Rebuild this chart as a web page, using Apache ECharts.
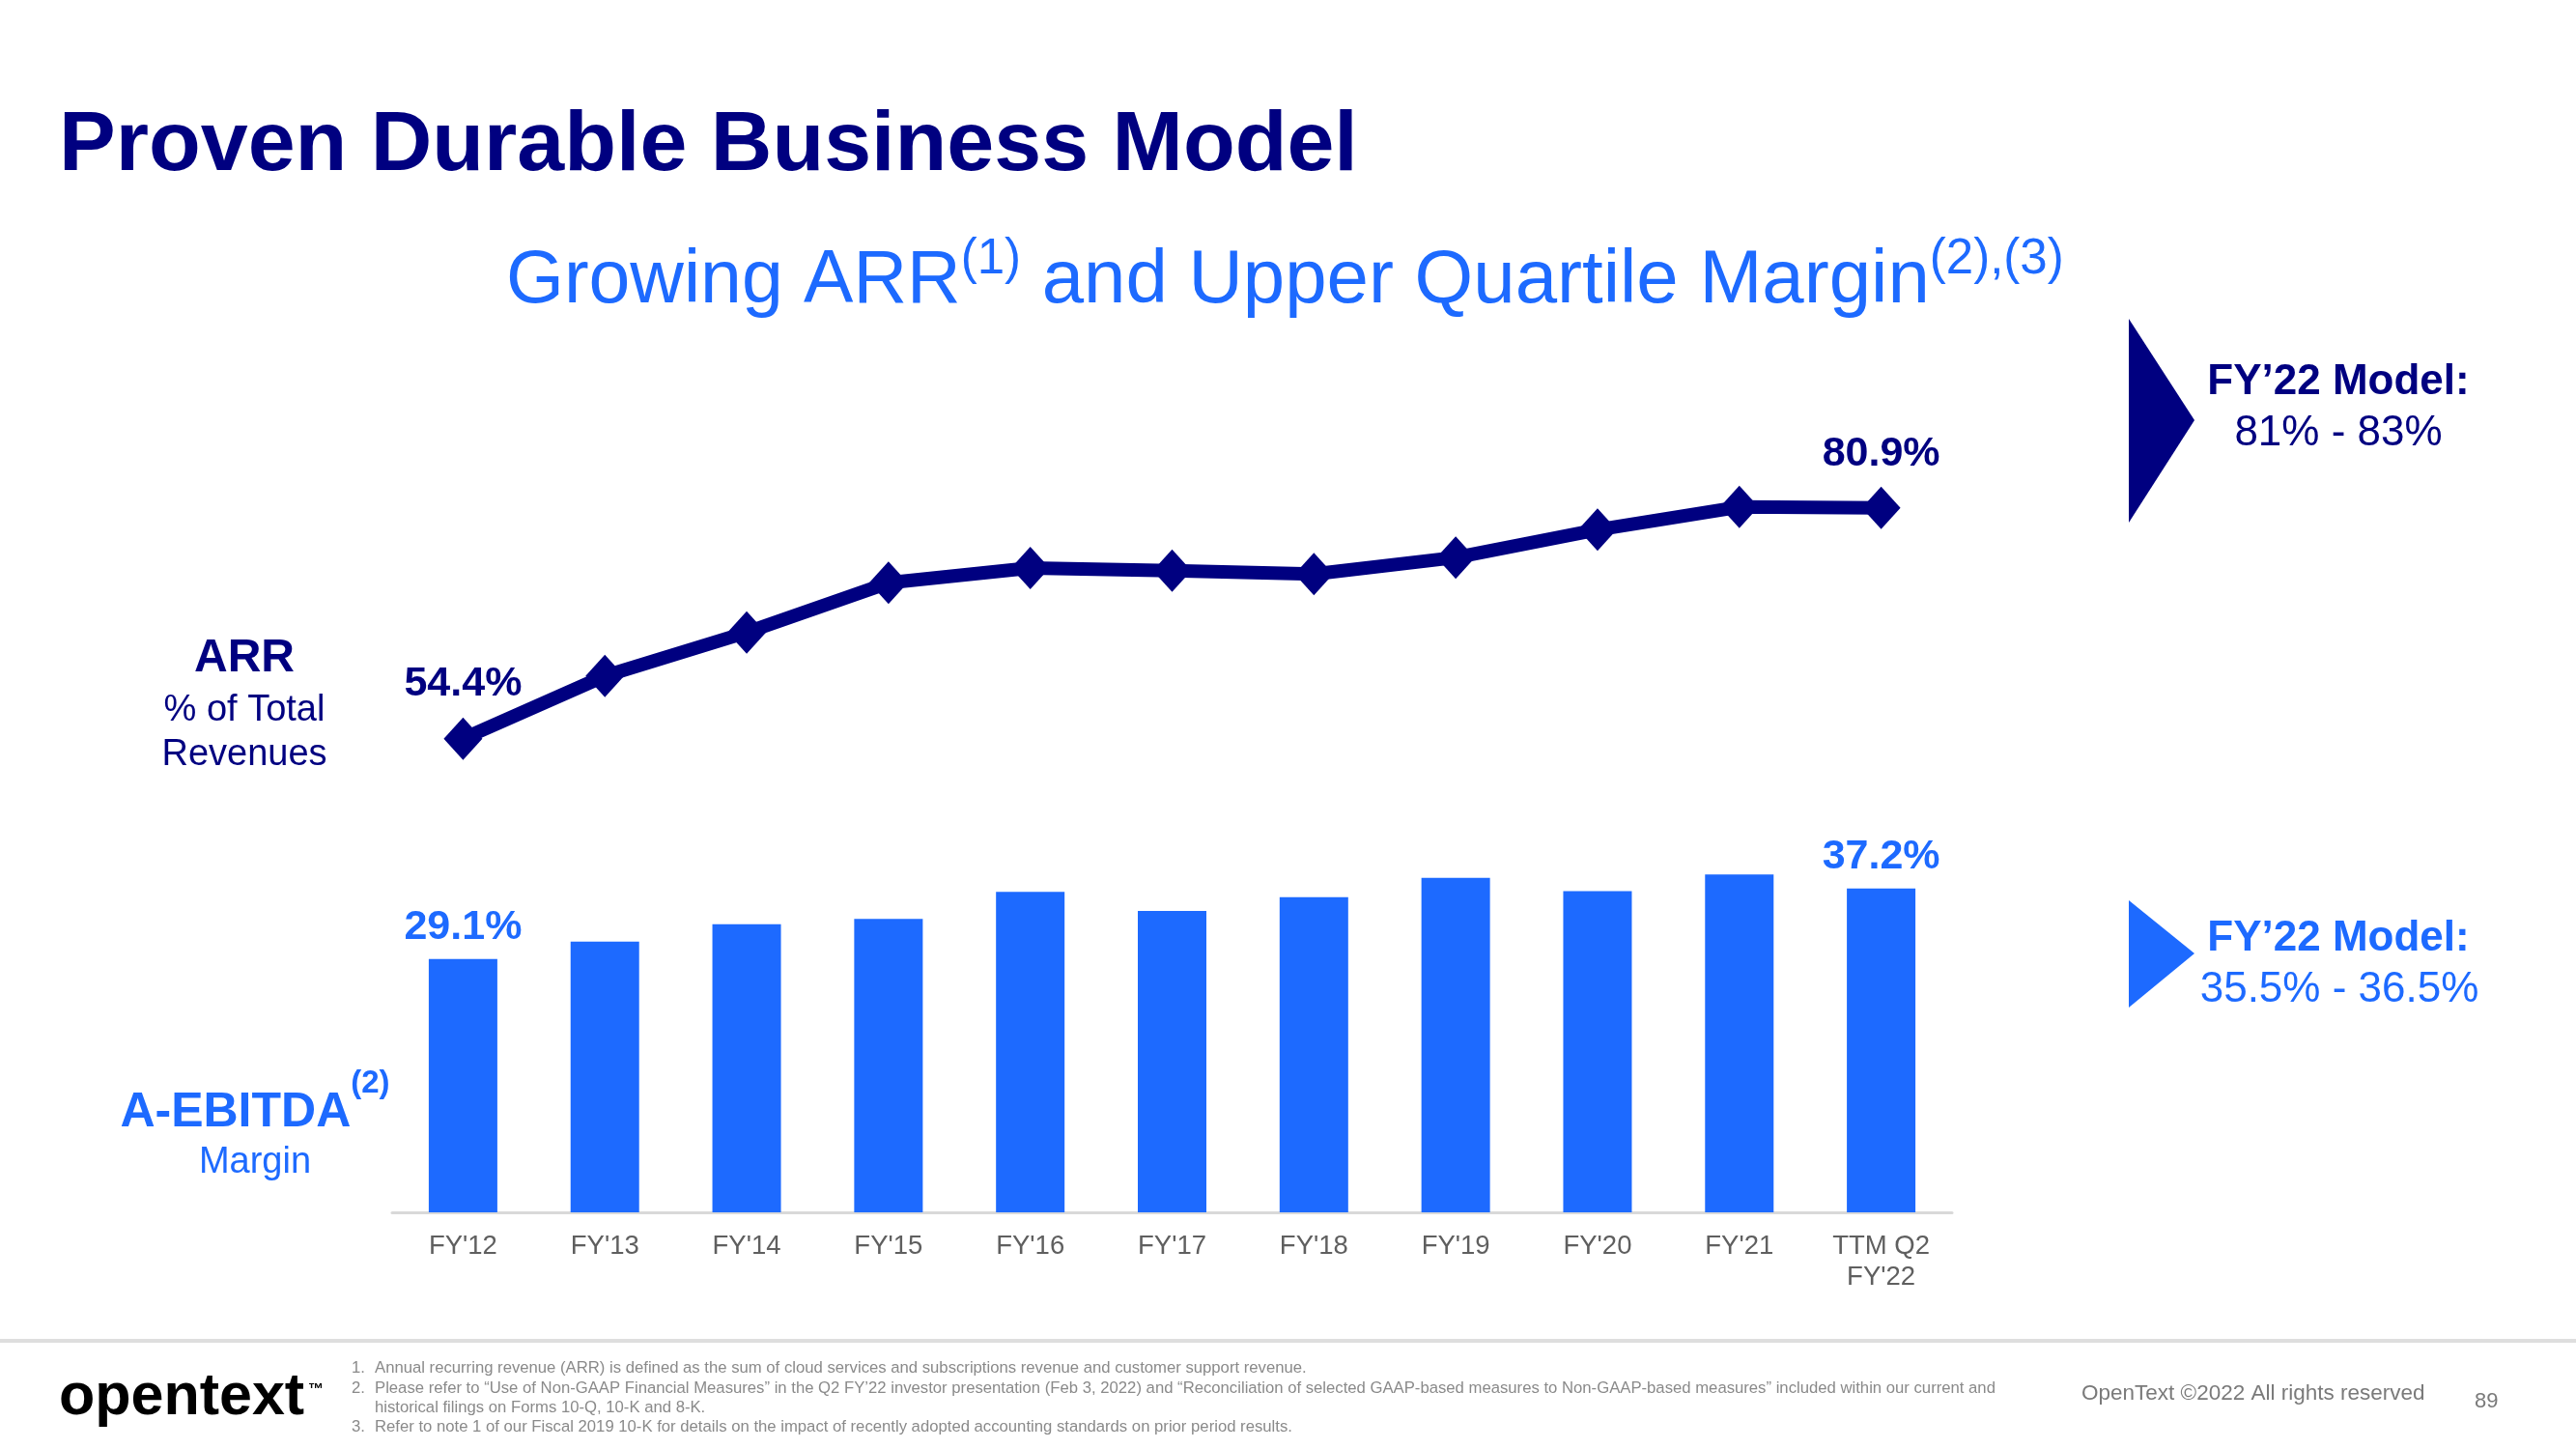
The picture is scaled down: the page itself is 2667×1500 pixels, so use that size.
<!DOCTYPE html>
<html><head><meta charset="utf-8">
<script src="https://cdn.jsdelivr.net/npm/echarts@6/dist/echarts.min.js"></script>
<style>html,body{margin:0;padding:0;background:#fff}#c{width:2667px;height:1500px}</style>
</head><body><div id="c"></div>
<script>
// ---- data ----
const categories = ["FY'12","FY'13","FY'14","FY'15","FY'16","FY'17","FY'18","FY'19","FY'20","FY'21","TTM Q2\nFY'22"];
const ebitdaMargin = [29.1, 31.1, 33.1, 33.7, 36.8, 34.6, 36.2, 38.4, 36.9, 38.8, 37.2];
const arrPct = [54.4, 61.6, 66.6, 72.3, 74.0, 73.7, 73.3, 75.2, 78.4, 81.0, 80.9];
const labelledIdx = [0, 10];
const footnotes = [
  ["1.", "Annual recurring revenue (ARR) is defined as the sum of cloud services and subscriptions revenue and customer support revenue."],
  ["2.", "Please refer to \u201cUse of Non-GAAP Financial Measures\u201d in the Q2 FY\u201922 investor presentation (Feb 3, 2022) and \u201cReconciliation of selected GAAP-based measures to Non-GAAP-based measures\u201d included within our current and"],
  ["", "historical filings on Forms 10-Q, 10-K and 8-K."],
  ["3.", "Refer to note 1 of our Fiscal 2019 10-K for details on the impact of recently adopted accounting standards on prior period results."]
];

// ---- style ----
const NAVY = '#000080';
const BLUE = '#1D6AFF';
const GRAY = '#5f5f5f';
const FF = '"Liberation Sans", Arial, Helvetica, sans-serif';
const K = 0.29;

const ctx = document.createElement('canvas').getContext('2d');
function measure(t, size, w) { ctx.font = (w || 'normal') + ' ' + size + 'px ' + FF; return ctx.measureText(t).width; }
function txt(x, base, s, size, weight, color, align) {
  return { type: 'text', x: x, y: base - K * size, silent: true,
    style: { text: s, fontSize: size, fontWeight: weight || 'normal', fontFamily: FF, fill: color,
      align: align || 'left', textAlign: align || 'left', verticalAlign: 'middle', textVerticalAlign: 'middle' } };
}
function seq(x, base, segs, align) {
  const ws = segs.map(s => measure(s.t, s.size, s.w));
  const total = ws.reduce((a, b) => a + b, 0);
  let cx = align === 'center' ? x - total / 2 : x;
  return segs.map((s, i) => { const el = txt(cx, base + (s.dy || 0), s.t, s.size, s.w, s.c, 'left'); cx += ws[i]; return el; });
}

const graphics = [];
graphics.push(txt(61, 177, 'Proven Durable Business Model', 88, 'bold', NAVY));
seq(524, 314, [
  { t: 'Growing ARR', size: 77, c: BLUE },
  { t: '(1)', size: 51, c: BLUE, dy: -30 },
  { t: ' and Upper Quartile Margin', size: 78, c: BLUE },
  { t: '(2),(3)', size: 51, c: BLUE, dy: -30 }
]).forEach(e => graphics.push(e));

graphics.push(txt(253, 696, 'ARR', 48, 'bold', NAVY, 'center'));
graphics.push(txt(253, 747, '% of Total', 38, 'normal', NAVY, 'center'));
graphics.push(txt(253, 793, 'Revenues', 38, 'normal', NAVY, 'center'));
seq(264, 1167, [
  { t: 'A-EBITDA', size: 50, w: 'bold', c: BLUE },
  { t: '(2)', size: 33, w: 'bold', c: BLUE, dy: -36 }
], 'center').forEach(e => graphics.push(e));
graphics.push(txt(264, 1215, 'Margin', 38, 'normal', BLUE, 'center'));

// right panel
graphics.push({ type: 'polygon', silent: true, shape: { points: [[2204, 330], [2272, 435], [2204, 541]] }, style: { fill: NAVY } });
graphics.push(txt(2421, 409, 'FY\u201922 Model:', 44, 'bold', NAVY, 'center'));
graphics.push(txt(2421, 462, '81% - 83%', 44, 'normal', NAVY, 'center'));
graphics.push({ type: 'polygon', silent: true, shape: { points: [[2204, 932], [2272, 987], [2204, 1043]] }, style: { fill: BLUE } });
graphics.push(txt(2421, 985, 'FY\u201922 Model:', 44, 'bold', BLUE, 'center'));
graphics.push(txt(2422, 1038, '35.5% - 36.5%', 44, 'normal', BLUE, 'center'));

// footer
graphics.push({ type: 'rect', silent: true, shape: { x: 0, y: 1386, width: 2667, height: 4 }, style: { fill: '#DEDEDE' } });
graphics.push(txt(61, 1465, 'opentext', 61, 'bold', '#000'));
graphics.push(txt(319, 1443, '\u2122', 16, 'bold', '#000'));
const fnBase = [1421, 1442, 1462, 1482];
footnotes.forEach((f, i) => {
  if (f[0]) graphics.push(txt(364, fnBase[i], f[0], 16.7, 'normal', '#8a8a8a'));
  graphics.push(txt(388, fnBase[i], f[1], 16.7, 'normal', '#8a8a8a'));
});
graphics.push(txt(2155, 1449, 'OpenText \u00a92022 All rights reserved', 22.5, 'normal', '#7a7a7a'));
graphics.push(txt(2562, 1457, '89', 22, 'normal', '#7a7a7a'));

const chart = echarts.init(document.getElementById('c'), null, { renderer: 'canvas' });
chart.setOption({
  animation: false,
  backgroundColor: '#ffffff',
  grid: { left: 406, right: 646, top: 353.6, bottom: 245 },
  xAxis: {
    type: 'category', data: categories, boundaryGap: true,
    axisLine: { show: true, lineStyle: { color: '#D9D9D9', width: 3 } },
    axisTick: { show: false },
    axisLabel: { interval: 0, fontSize: 27.5, color: GRAY, fontFamily: FF, lineHeight: 32, margin: 19 },
    splitLine: { show: false }
  },
  yAxis: { type: 'value', min: 0, max: 100, show: false, splitLine: { show: false } },
  series: [
    {
      type: 'bar', barWidth: 71, z: 2,
      itemStyle: { color: BLUE },
      data: ebitdaMargin.map((v, i) => ({ value: v, label: { show: labelledIdx.includes(i) } })),
      label: { position: 'top', distance: 11, formatter: p => p.value.toFixed(1) + '%',
        fontSize: 43, fontWeight: 'bold', color: BLUE, fontFamily: FF, lineHeight: 44 }
    },
    {
      type: 'line', z: 3,
      symbol: 'diamond', symbolSize: [40, 44],
      lineStyle: { color: NAVY, width: 14 },
      itemStyle: { color: NAVY },
      data: arrPct.map((v, i) => ({ value: v, label: { show: labelledIdx.includes(i) } })),
      label: { position: 'top', distance: 12, formatter: p => p.value.toFixed(1) + '%',
        fontSize: 43, fontWeight: 'bold', color: NAVY, fontFamily: FF, lineHeight: 44 }
    }
  ],
  graphic: graphics
});
</script></body></html>
